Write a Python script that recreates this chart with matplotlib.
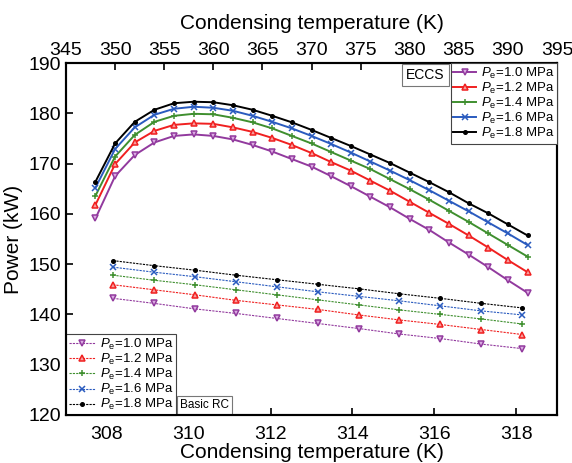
import matplotlib
matplotlib.use("Agg")
import matplotlib.pyplot as plt

plt.rcParams['font.family'] = ['Liberation Sans', 'DejaVu Sans']
plt.rcParams['mathtext.fontset'] = 'custom'
plt.rcParams['mathtext.rm'] = 'Liberation Sans'
plt.rcParams['mathtext.it'] = 'Liberation Sans:italic'

# ECCS, plotted against the top axis (K)
t_eccs = [348, 350, 352, 354, 356, 358, 360, 362, 364, 366, 368, 370,
          372, 374, 376, 378, 380, 382, 384, 386, 388, 390, 392]
eccs_10 = [159.1, 167.5, 171.7, 174.2, 175.5, 175.8, 175.5, 174.8, 173.7, 172.4, 170.9, 169.4,
           167.5, 165.5, 163.4, 161.3, 159.0, 156.8, 154.3, 151.9, 149.4, 146.8, 144.3]
eccs_12 = [161.8, 169.9, 174.2, 176.5, 177.7, 178.0, 177.9, 177.2, 176.3, 175.1, 173.7, 172.1,
           170.3, 168.6, 166.6, 164.6, 162.4, 160.2, 158.0, 155.7, 153.3, 150.8, 148.4]
eccs_14 = [163.6, 171.4, 175.7, 178.3, 179.5, 179.9, 179.8, 179.1, 178.2, 177.0, 175.5, 174.0,
           172.3, 170.6, 168.9, 166.9, 164.9, 162.8, 160.6, 158.4, 156.1, 153.8, 151.5]
eccs_16 = [165.2, 172.9, 177.2, 179.7, 180.9, 181.3, 181.1, 180.5, 179.5, 178.3, 177.0, 175.5,
           173.9, 172.2, 170.4, 168.6, 166.7, 164.7, 162.6, 160.5, 158.3, 156.1, 153.8]
eccs_18 = [166.4, 174.0, 178.3, 180.7, 182.0, 182.3, 182.2, 181.6, 180.7, 179.5, 178.2, 176.7,
           175.1, 173.5, 171.8, 170.1, 168.2, 166.3, 164.3, 162.1, 160.1, 157.9, 155.7]

# Basic RC, plotted against the bottom axis (K)
t_basic = [308.15, 309.15, 310.15, 311.15, 312.15, 313.15, 314.15, 315.15, 316.15, 317.15, 318.15]
basic_10 = [143.2, 142.2, 141.1, 140.2, 139.2, 138.2, 137.2, 136.1, 135.2, 134.1, 133.2]
basic_12 = [145.9, 144.9, 143.9, 142.8, 141.9, 141.0, 139.9, 138.9, 138.0, 137.0, 136.0]
basic_14 = [147.8, 146.8, 145.9, 144.9, 143.9, 142.9, 141.9, 140.9, 140.0, 139.1, 138.1]
basic_16 = [149.4, 148.4, 147.5, 146.5, 145.5, 144.5, 143.6, 142.7, 141.7, 140.7, 139.9]
basic_18 = [150.7, 149.7, 148.8, 147.8, 146.9, 146.0, 145.1, 144.1, 143.2, 142.2, 141.3]

labels = [r'$P_\mathrm{e}$=1.0 MPa', r'$P_\mathrm{e}$=1.2 MPa', r'$P_\mathrm{e}$=1.4 MPa',
          r'$P_\mathrm{e}$=1.6 MPa', r'$P_\mathrm{e}$=1.8 MPa']
colors = ['#923a9e', '#f02020', '#3f8f2f', '#2a5bbf', '#000000']
faces = ['#dcaee4', '#f8a0a0', '#3f8f2f', '#2a5bbf', '#000000']
markers = ['v', '^', '+', 'x', '.']

fig = plt.figure(figsize=(5.72, 4.63), dpi=100)
ax = fig.add_axes([0.1154, 0.1037, 0.8584, 0.7602])
ax2 = ax.twiny()

for ys, c, fc, m, lab in zip([basic_10, basic_12, basic_14, basic_16, basic_18],
                             colors, faces, markers, labels):
    ax.plot(t_basic, ys, color=c, lw=0.8, ls=(0, (2, 1)), marker=m, ms=5,
            mfc=fc, mec=c, mew=1.1, label=lab)

for ys, c, fc, m, lab in zip([eccs_10, eccs_12, eccs_14, eccs_16, eccs_18],
                             colors, faces, markers, labels):
    ax2.plot(t_eccs, ys, color=c, lw=1.4, marker=m, ms=5,
             mfc=fc, mec=c, mew=1.1, label=lab)

ax.set_xlim(307, 319)
ax2.set_xlim(345, 395)
ax.set_ylim(120, 190)
ax.set_xticks([308, 310, 312, 314, 316, 318])
ax2.set_xticks(range(345, 396, 5))
ax.set_yticks(range(120, 191, 10))

ax.set_xlabel('Condensing temperature (K)', fontsize=15, labelpad=0)
ax2.set_xlabel('Condensing temperature (K)', fontsize=15, labelpad=9)
ax.set_ylabel('Power (kW)', fontsize=15, labelpad=4)

ax.tick_params(axis='both', direction='in', labelsize=14, length=5, width=1.2)
ax.tick_params(axis='x', pad=8)
ax2.tick_params(axis='x', direction='in', labelsize=14, length=5, width=1.2, pad=3)
for a in (ax, ax2):
    for s in a.spines.values():
        s.set_linewidth(1.5)

leg1 = ax2.legend(loc='upper right', fontsize=9.5, frameon=True, fancybox=False,
                  framealpha=1, edgecolor='#444444', borderaxespad=0,
                  handlelength=1.7, labelspacing=0.0, borderpad=0.2, handletextpad=0.4)
leg1.get_frame().set_linewidth(0.8)
leg2 = ax.legend(loc='lower left', fontsize=9.5, frameon=True, fancybox=False,
                 framealpha=1, edgecolor='#444444', borderaxespad=0,
                 handlelength=2.0, labelspacing=0.0, borderpad=0.2, handletextpad=0.4)
leg2.get_frame().set_linewidth(0.8)

# put the two tag boxes right beside their legends
fig.canvas.draw()
inv = ax.transAxes.inverted()
bb1 = leg1.get_window_extent().transformed(inv)
bb2 = leg2.get_window_extent().transformed(inv)

ax2.text(bb1.x0 - 0.012, 0.985, 'ECCS', transform=ax.transAxes, ha='right', va='top',
         fontsize=10, bbox=dict(boxstyle='square,pad=0.3', fc='white', ec='#777777', lw=0.8))
ax.text(bb2.x1 + 0.008, 0.012, 'Basic RC', transform=ax.transAxes, ha='left', va='bottom',
        fontsize=8.5, bbox=dict(boxstyle='square,pad=0.25', fc='white', ec='#777777', lw=0.8))

fig.savefig('out.png', dpi=100)
